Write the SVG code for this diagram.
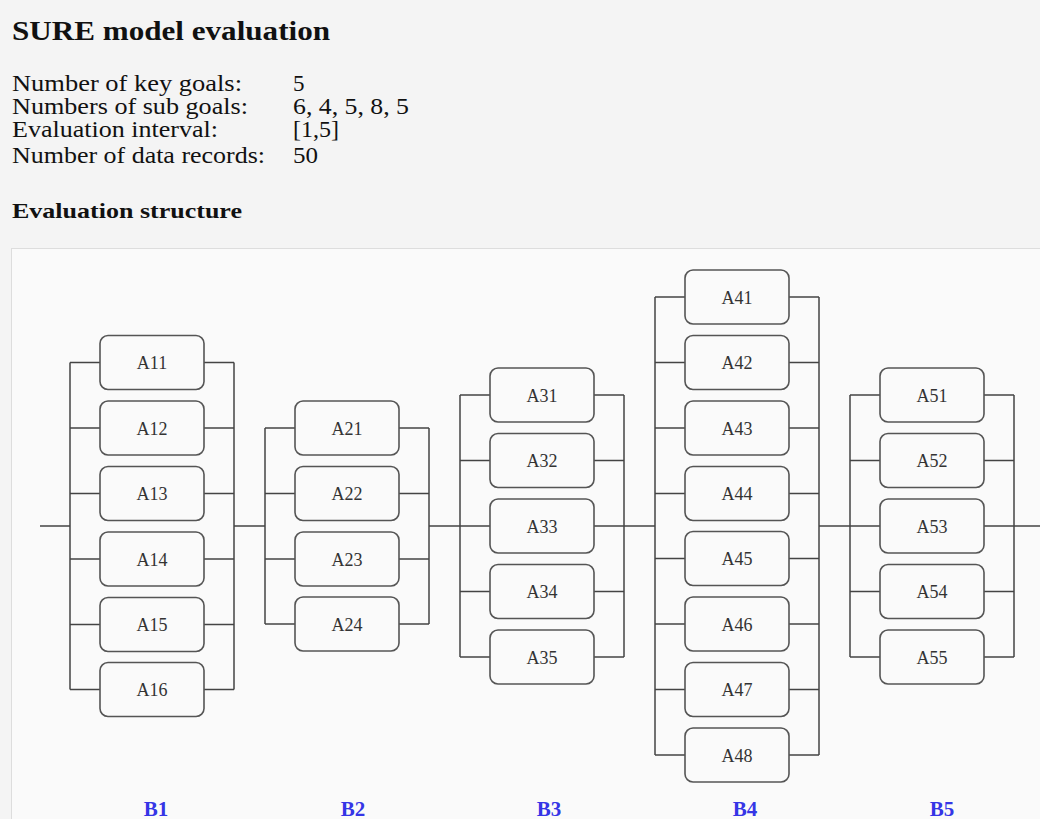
<svg xmlns="http://www.w3.org/2000/svg" width="1040" height="819" viewBox="0 0 1040 819">
<style>
.t{font-family:"Liberation Serif",serif;fill:#111;font-size:23px}
.h{font-family:"Liberation Serif",serif;font-weight:bold;fill:#111}
.bx rect{fill:#fafafa;stroke:#555;stroke-width:1.6}
.bx text{font-family:"Liberation Serif",serif;font-size:18px;fill:#333;text-anchor:middle}
.ln{stroke:#444;stroke-width:1.5;fill:none}
.lb{font-family:"Liberation Serif",serif;font-size:21px;font-weight:bold;fill:#3535e6;text-anchor:middle}
</style>
<rect x="0" y="0" width="1040" height="819" fill="#f4f4f4"/>
<rect x="11.5" y="248.5" width="1040" height="580" fill="#fafafa" stroke="#ddd"/>
<text class="h" x="12" y="40" font-size="27" textLength="318" lengthAdjust="spacingAndGlyphs">SURE model evaluation</text>
<g>
<text x="12" y="91" class="t" textLength="230" lengthAdjust="spacingAndGlyphs">Number of key goals:</text><text x="293" y="91" class="t">5</text>
<text x="12" y="114" class="t" textLength="236" lengthAdjust="spacingAndGlyphs">Numbers of sub goals:</text><text x="293" y="114" class="t" textLength="116" lengthAdjust="spacingAndGlyphs">6, 4, 5, 8, 5</text>
<text x="12" y="137" class="t" textLength="206" lengthAdjust="spacingAndGlyphs">Evaluation interval:</text><text x="293" y="137" class="t" textLength="46" lengthAdjust="spacingAndGlyphs">[1,5]</text>
<text x="12" y="163" class="t" textLength="253" lengthAdjust="spacingAndGlyphs">Number of data records:</text><text x="293" y="163" class="t" textLength="25" lengthAdjust="spacingAndGlyphs">50</text>
</g>
<text class="h" x="12" y="218" font-size="22" textLength="230" lengthAdjust="spacingAndGlyphs">Evaluation structure</text>
<g id="connectors" class="ln">
<path d="M40 526H70M234 526H265M429 526H460M624 526H655M819 526H850M1014 526H1040"/>
<path d="M70 362.5V689.5M234 362.5V689.5"/>
<path d="M70 362.5H100M204 362.5H234M70 428H100M204 428H234M70 493.5H100M204 493.5H234M70 559H100M204 559H234M70 624.5H100M204 624.5H234M70 689.5H100M204 689.5H234"/>
<path d="M265 428V624M429 428V624"/>
<path d="M265 428H295M399 428H429M265 493.5H295M399 493.5H429M265 559H295M399 559H429M265 624H295M399 624H429"/>
<path d="M460 395V657M624 395V657"/>
<path d="M460 395H490M594 395H624M460 460.5H490M594 460.5H624M460 526H490M594 526H624M460 591.5H490M594 591.5H624M460 657H490M594 657H624"/>
<path d="M655 297V755M819 297V755"/>
<path d="M655 297H685M789 297H819M655 362.5H685M789 362.5H819M655 428H685M789 428H819M655 493.5H685M789 493.5H819M655 558.5H685M789 558.5H819M655 624H685M789 624H819M655 689.5H685M789 689.5H819M655 755H685M789 755H819"/>
<path d="M850 395V657M1014 395V657"/>
<path d="M850 395H880M984 395H1014M850 460.5H880M984 460.5H1014M850 526H880M984 526H1014M850 591.5H880M984 591.5H1014M850 657H880M984 657H1014"/>
</g>
<g id="A11" class="bx"><rect x="100" y="335.5" width="104" height="54" rx="8"/><text x="152" y="369">A11</text></g>
<g id="A12" class="bx"><rect x="100" y="401" width="104" height="54" rx="8"/><text x="152" y="434.5">A12</text></g>
<g id="A13" class="bx"><rect x="100" y="466.5" width="104" height="54" rx="8"/><text x="152" y="500">A13</text></g>
<g id="A14" class="bx"><rect x="100" y="532" width="104" height="54" rx="8"/><text x="152" y="565.5">A14</text></g>
<g id="A15" class="bx"><rect x="100" y="597.5" width="104" height="54" rx="8"/><text x="152" y="631">A15</text></g>
<g id="A16" class="bx"><rect x="100" y="662.5" width="104" height="54" rx="8"/><text x="152" y="696">A16</text></g>
<g id="A21" class="bx"><rect x="295" y="401" width="104" height="54" rx="8"/><text x="347" y="434.5">A21</text></g>
<g id="A22" class="bx"><rect x="295" y="466.5" width="104" height="54" rx="8"/><text x="347" y="500">A22</text></g>
<g id="A23" class="bx"><rect x="295" y="532" width="104" height="54" rx="8"/><text x="347" y="565.5">A23</text></g>
<g id="A24" class="bx"><rect x="295" y="597" width="104" height="54" rx="8"/><text x="347" y="630.5">A24</text></g>
<g id="A31" class="bx"><rect x="490" y="368" width="104" height="54" rx="8"/><text x="542" y="401.5">A31</text></g>
<g id="A32" class="bx"><rect x="490" y="433.5" width="104" height="54" rx="8"/><text x="542" y="467">A32</text></g>
<g id="A33" class="bx"><rect x="490" y="499" width="104" height="54" rx="8"/><text x="542" y="532.5">A33</text></g>
<g id="A34" class="bx"><rect x="490" y="564.5" width="104" height="54" rx="8"/><text x="542" y="598">A34</text></g>
<g id="A35" class="bx"><rect x="490" y="630" width="104" height="54" rx="8"/><text x="542" y="663.5">A35</text></g>
<g id="A41" class="bx"><rect x="685" y="270" width="104" height="54" rx="8"/><text x="737" y="303.5">A41</text></g>
<g id="A42" class="bx"><rect x="685" y="335.5" width="104" height="54" rx="8"/><text x="737" y="369">A42</text></g>
<g id="A43" class="bx"><rect x="685" y="401" width="104" height="54" rx="8"/><text x="737" y="434.5">A43</text></g>
<g id="A44" class="bx"><rect x="685" y="466.5" width="104" height="54" rx="8"/><text x="737" y="500">A44</text></g>
<g id="A45" class="bx"><rect x="685" y="531.5" width="104" height="54" rx="8"/><text x="737" y="565">A45</text></g>
<g id="A46" class="bx"><rect x="685" y="597" width="104" height="54" rx="8"/><text x="737" y="630.5">A46</text></g>
<g id="A47" class="bx"><rect x="685" y="662.5" width="104" height="54" rx="8"/><text x="737" y="696">A47</text></g>
<g id="A48" class="bx"><rect x="685" y="728" width="104" height="54" rx="8"/><text x="737" y="761.5">A48</text></g>
<g id="A51" class="bx"><rect x="880" y="368" width="104" height="54" rx="8"/><text x="932" y="401.5">A51</text></g>
<g id="A52" class="bx"><rect x="880" y="433.5" width="104" height="54" rx="8"/><text x="932" y="467">A52</text></g>
<g id="A53" class="bx"><rect x="880" y="499" width="104" height="54" rx="8"/><text x="932" y="532.5">A53</text></g>
<g id="A54" class="bx"><rect x="880" y="564.5" width="104" height="54" rx="8"/><text x="932" y="598">A54</text></g>
<g id="A55" class="bx"><rect x="880" y="630" width="104" height="54" rx="8"/><text x="932" y="663.5">A55</text></g>
<g id="labels">
<text class="lb" x="156" y="816">B1</text>
<text class="lb" x="353" y="816">B2</text>
<text class="lb" x="549" y="816">B3</text>
<text class="lb" x="745" y="816">B4</text>
<text class="lb" x="942" y="816">B5</text>
</g>
</svg>
